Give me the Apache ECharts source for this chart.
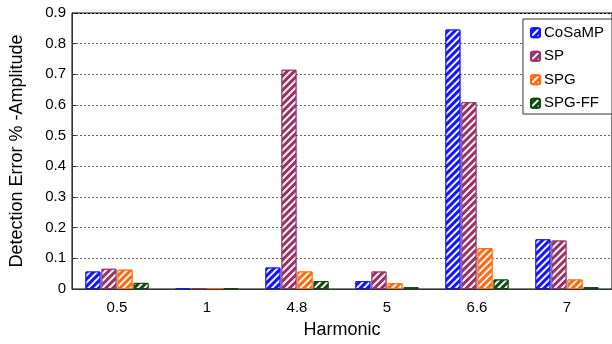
<!DOCTYPE html>
<html><head><meta charset="utf-8">
<script src="https://cdn.jsdelivr.net/npm/echarts@6/dist/echarts.min.js"></script>
<style>html,body{margin:0;padding:0;background:#fff}#c{width:612px;height:344px}</style>
</head><body><div id="c"></div>
<script>
const categories = ['0.5', '1', '4.8', '5', '6.6', '7'];
const seriesNames = ['CoSaMP', 'SP', 'SPG', 'SPG-FF'];
const cosamp = [0.057, 0.003, 0.070, 0.026, 0.846, 0.162];
const sp     = [0.066, 0.003, 0.715, 0.057, 0.609, 0.158];
const spg    = [0.063, 0.003, 0.057, 0.019, 0.133, 0.031];
const spgff  = [0.020, 0.003, 0.026, 0.006, 0.031, 0.006];
const yTicks = [0, 0.1, 0.2, 0.3, 0.4, 0.5, 0.6, 0.7, 0.8, 0.9];

const colors = ['#1414ff', '#993366', '#ff6a10', '#0f4a0f'];
const values = [cosamp, sp, spg, spgff];
const font = 'Liberation Sans, Arial, sans-serif';

const chart = echarts.init(document.getElementById('c'), null, {renderer: 'canvas'});
const decal = {
  symbol: 'rect', symbolSize: 1,
  dashArrayX: [1, 0], dashArrayY: [2, 2.2],
  rotation: -Math.PI / 4,
  color: 'rgba(255,255,255,0.95)'
};
chart.setOption({
  animation: false,
  aria: {enabled: false},
  grid: {left: 67, top: 13, width: 549, height: 280, show: true, borderColor: '#000', borderWidth: 1},
  legend: {
    right: 0, top: 19, orient: 'vertical', itemGap: 8,
    itemWidth: 9, itemHeight: 9, padding: [6, 8, 3, 7],
    backgroundColor: '#fff', borderColor: '#333', borderWidth: 1,
    textStyle: {fontFamily: font, fontSize: 15, lineHeight: 15.5, color: '#000', padding: [0, 0, 0, -1]},
    data: seriesNames
  },
  xAxis: {
    type: 'category', data: categories,
    name: 'Harmonic', nameLocation: 'middle', nameGap: 32,
    nameTextStyle: {fontFamily: font, fontSize: 18, color: '#000'},
    axisLine: {lineStyle: {color: '#333', width: 1}},
    axisTick: {inside: true, length: 5, lineStyle: {color: '#333'}},
    axisLabel: {fontFamily: font, fontSize: 15, color: '#000', margin: 11}
  },
  yAxis: {
    type: 'value', min: 0, max: 0.9, interval: 0.1,
    name: 'Detection Error % -Amplitude', nameLocation: 'middle', nameGap: 46,
    nameTextStyle: {fontFamily: font, fontSize: 18, color: '#000'},
    axisLine: {show: true, lineStyle: {color: '#333'}},
    axisTick: {show: true, inside: true, length: 4, lineStyle: {color: '#333'}},
    axisLabel: {fontFamily: font, fontSize: 15, color: '#000', margin: 6,
      formatter: v => { const t = yTicks.find(x => Math.abs(x - v) < 1e-9); return t === undefined ? '' : String(t); }},
    splitLine: {show: true, lineStyle: {type: [2, 2], color: ['#777', '#666', '#666', '#666', '#666', '#666', '#666', '#666', '#666', '#000'], width: 1}}
  },
  series: seriesNames.map((n, i) => ({
    name: n, type: 'bar', data: values[i],
    barWidth: 15, barGap: '7%',
    itemStyle: {color: colors[i], borderColor: colors[i], borderWidth: 1, decal: decal}
  }))
});
</script></body></html>
